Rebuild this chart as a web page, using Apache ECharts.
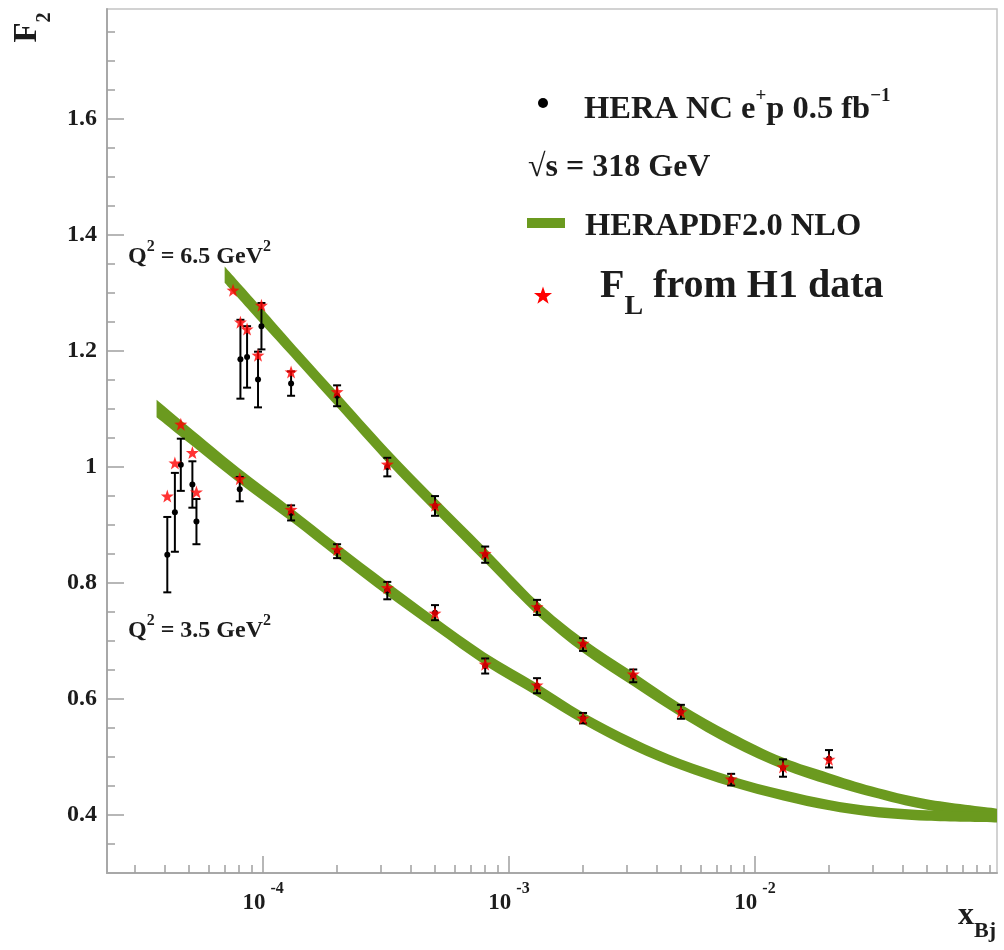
<!DOCTYPE html>
<html><head><meta charset="utf-8">
<script src="https://cdn.jsdelivr.net/npm/echarts@6/dist/echarts.min.js"></script>
<style>html,body{margin:0;padding:0;background:#fff}#c{width:1004px;height:950px}</style>
</head><body><div id="c"></div>
<script>
// ---- axis ranges / ticks ----
const X_MIN = 2.32e-5, X_MAX = 0.0964;
const Y_MIN = 0.3, Y_MAX = 1.79;
const xMajorTicks = [1e-4, 1e-3, 1e-2];
const xMinorTicks = [3e-5, 4e-5, 5e-5, 6e-5, 7e-5, 8e-5, 9e-5,
  2e-4, 3e-4, 4e-4, 5e-4, 6e-4, 7e-4, 8e-4, 9e-4,
  2e-3, 3e-3, 4e-3, 5e-3, 6e-3, 7e-3, 8e-3, 9e-3,
  2e-2, 3e-2, 4e-2, 5e-2, 6e-2, 7e-2, 8e-2, 9e-2];
const yMajorTicks = [0.4, 0.6, 0.8, 1, 1.2, 1.4, 1.6];
const yMinorTicks = [0.35, 0.45, 0.5, 0.55, 0.65, 0.7, 0.75, 0.85, 0.9, 0.95, 1.05, 1.1, 1.15,
  1.25, 1.3, 1.35, 1.45, 1.5, 1.55, 1.65, 1.7, 1.75];

// ---- HERA NC e+p F2 data, Q2 = 6.5 GeV2 ----
const xQ65   = [8.09e-5, 8.61e-5, 9.54e-5, 9.85e-5, 1.30e-4, 2.0e-4, 3.2e-4, 5.0e-4, 8.0e-4, 1.3e-3, 2.0e-3, 3.2e-3, 5.0e-3, 1.3e-2, 2.0e-2];
const f2Q65  = [1.186, 1.190, 1.151, 1.243, 1.144, 1.123, 1.000, 0.933, 0.849, 0.758, 0.694, 0.640, 0.578, 0.481, 0.497];
const errQ65 = [0.068, 0.053, 0.048, 0.040, 0.021, 0.018, 0.016, 0.017, 0.014, 0.013, 0.011, 0.011, 0.012, 0.015, 0.015];
// ---- HERA NC e+p F2 data, Q2 = 3.5 GeV2 ----
const xQ35   = [4.08e-5, 4.38e-5, 4.63e-5, 5.16e-5, 5.36e-5, 8.04e-5, 1.30e-4, 2.0e-4, 3.2e-4, 5.0e-4, 8.0e-4, 1.3e-3, 2.0e-3, 8.0e-3];
const f2Q35  = [0.849, 0.922, 1.004, 0.970, 0.906, 0.962, 0.921, 0.855, 0.787, 0.749, 0.657, 0.623, 0.567, 0.461];
const errQ35 = [0.065, 0.068, 0.045, 0.040, 0.039, 0.021, 0.013, 0.012, 0.015, 0.013, 0.013, 0.013, 0.009, 0.010];

// ---- F2 using FL from H1 data (red stars) ----
const flX65 = [7.55e-5, 8.09e-5, 8.61e-5, 9.54e-5, 9.85e-5, 1.30e-4, 2.0e-4, 3.2e-4, 5.0e-4, 8.0e-4, 1.3e-3, 2.0e-3, 3.2e-3, 5.0e-3, 1.3e-2, 2.0e-2];
const flF65 = [1.305, 1.250, 1.238, 1.193, 1.279, 1.164, 1.130, 1.005, 0.934, 0.851, 0.759, 0.696, 0.643, 0.578, 0.483, 0.496];
const flX35 = [4.08e-5, 4.38e-5, 4.63e-5, 5.16e-5, 5.36e-5, 8.04e-5, 1.30e-4, 2.0e-4, 3.2e-4, 5.0e-4, 8.0e-4, 1.3e-3, 2.0e-3, 8.0e-3];
const flF35 = [0.950, 1.007, 1.074, 1.025, 0.957, 0.980, 0.927, 0.858, 0.792, 0.748, 0.660, 0.624, 0.567, 0.462];

// ---- HERAPDF2.0 NLO bands: centre and half-width ----
const bandX65 = [6.98e-5, 1e-4, 1.3e-4, 2e-4, 3.2e-4, 5e-4, 8e-4, 1.3e-3, 2e-3, 3.2e-3, 5e-3, 8e-3, 1.3e-2, 2e-2, 3e-2, 5e-2, 9.64e-2];
const bandC65 = [1.332, 1.258, 1.204, 1.116, 1.020, 0.935, 0.848, 0.757, 0.692, 0.634, 0.580, 0.531, 0.489, 0.462, 0.440, 0.418, 0.402];
const bandH65 = [0.014, 0.014, 0.013, 0.013, 0.013, 0.013, 0.013, 0.012, 0.012, 0.012, 0.011, 0.011, 0.010, 0.010, 0.009, 0.009, 0.009];
const bandX35 = [3.69e-5, 5e-5, 8e-5, 1.3e-4, 2e-4, 3.2e-4, 5e-4, 8e-4, 1.3e-3, 2e-3, 3.2e-3, 5e-3, 8e-3, 1.3e-2, 2e-2, 3e-2, 5e-2, 9.64e-2];
const bandC35 = [1.101, 1.055, 0.985, 0.918, 0.856, 0.790, 0.730, 0.669, 0.616, 0.567, 0.522, 0.487, 0.458, 0.434, 0.417, 0.406, 0.399, 0.396];
const bandH35 = [0.015, 0.014, 0.013, 0.012, 0.012, 0.012, 0.011, 0.011, 0.011, 0.010, 0.010, 0.009, 0.009, 0.009, 0.009, 0.009, 0.009, 0.009];

const SERIF = "'Liberation Serif','Times New Roman',serif";
const GREEN = '#6b9a1f';
const TXT = '#1c1c1c';
const STAR = 'M0,-10 L2.35,-3.24 L9.51,-3.09 L3.8,1.24 L5.88,8.09 L0,4 L-5.88,8.09 L-3.8,1.24 L-9.51,-3.09 L-2.35,-3.24 Z';
// legend star icon outline (unit star, scaled when drawn)
const STAR_PTS = [[0,-10],[2.35,-3.24],[9.51,-3.09],[3.8,1.24],[5.88,8.09],[0,4],[-5.88,8.09],[-3.8,1.24],[-9.51,-3.09],[-2.35,-3.24]];

function f(size, extra) {
  return Object.assign({fontFamily: SERIF, fontWeight: 'bold', fontSize: size, color: TXT, fill: TXT}, extra || {});
}

// smooth pixel-space curve through projected points (Catmull-Rom -> cubic Bezier)
function curve(p) {
  let s = '';
  for (let i = 0; i < p.length - 1; i++) {
    const p0 = p[i - 1] || p[i], p1 = p[i], p2 = p[i + 1], p3 = p[i + 2] || p[i + 1];
    const k = 6;
    const c1 = [p1[0] + (p2[0] - p0[0]) / k, p1[1] + (p2[1] - p0[1]) / k];
    const c2 = [p2[0] - (p3[0] - p1[0]) / k, p2[1] - (p3[1] - p1[1]) / k];
    s += 'C' + c1[0] + ',' + c1[1] + ' ' + c2[0] + ',' + c2[1] + ' ' + p2[0] + ',' + p2[1] + ' ';
  }
  return s;
}

function bandSeries(xs, cs, hs, name) {
  return {
    type: 'custom', name: name, data: xs.map((x, i) => [x, cs[i] - hs[i], cs[i] + hs[i]]),
    encode: {x: 0, y: [1, 2]}, z: 1, silent: true, clip: true,
    renderItem(params, api) {
      if (params.dataIndex !== 0) return null;
      const up = [], lo = [];
      for (let i = 0; i < xs.length; i++) {
        up.push(api.coord([xs[i], cs[i] + hs[i]]));
        lo.push(api.coord([xs[i], cs[i] - hs[i]]));
      }
      const loR = lo.slice().reverse();
      const d = 'M' + up[0][0] + ',' + up[0][1] + ' ' + curve(up) +
                'L' + loR[0][0] + ',' + loR[0][1] + ' ' + curve(loR) + 'Z';
      return {type: 'path', shape: {pathData: d}, style: {fill: GREEN}};
    }
  };
}

const errData = xQ65.map((x, i) => [x, f2Q65[i], errQ65[i]])
  .concat(xQ35.map((x, i) => [x, f2Q35[i], errQ35[i]]));
const starData = flX65.map((x, i) => [x, flF65[i]])
  .concat(flX35.map((x, i) => [x, flF35[i]]));

const chart = echarts.init(document.getElementById('c'), null, {renderer: 'canvas'});
chart.setOption({
  animation: false,
  backgroundColor: '#fff',
  grid: {left: 107, right: 7, top: 9, bottom: 77, show: true, borderColor: '#c4c4c4', borderWidth: 1.5},
  xAxis: [
    {type: 'log', logBase: 10, min: X_MIN, max: X_MAX,
     axisLine: {onZero: false, lineStyle: {color: '#a8a8a8', width: 2}},
     axisTick: {inside: true, length: 17, customValues: xMajorTicks, lineStyle: {color: '#a0a0a0', width: 1.5}},
     axisLabel: {customValues: xMajorTicks, margin: 8,
       formatter: v => '{b|10}{s|' + Math.round(Math.log10(v)) + '}',
       rich: {b: f(23, {lineHeight: 44, verticalAlign: 'middle'}),
              s: f(16, {lineHeight: 16, verticalAlign: 'top', padding: [0, 0, 0, 5]})}},
     splitLine: {show: false}},
    {type: 'log', logBase: 10, min: X_MIN, max: X_MAX, position: 'bottom',
     axisLine: {show: false},
     axisTick: {inside: true, length: 8, customValues: xMinorTicks, lineStyle: {color: '#a0a0a0', width: 1.5}},
     axisLabel: {show: false}, splitLine: {show: false}}
  ],
  yAxis: [
    {type: 'value', min: Y_MIN, max: Y_MAX,
     axisLine: {show: true, onZero: false, lineStyle: {color: '#a8a8a8', width: 2}},
     axisTick: {show: true, inside: true, length: 17, customValues: yMajorTicks, lineStyle: {color: '#a0a0a0', width: 1.5}},
     axisLabel: {customValues: yMajorTicks, margin: 10, formatter: v => String(v), ...f(24)},
     splitLine: {show: false}},
    {type: 'value', min: Y_MIN, max: Y_MAX, position: 'left',
     axisLine: {show: false},
     axisTick: {show: true, inside: true, length: 8, customValues: yMinorTicks, lineStyle: {color: '#a0a0a0', width: 1.5}},
     axisLabel: {show: false}, splitLine: {show: false}}
  ],
  series: [
    bandSeries(bandX65, bandC65, bandH65, 'HERAPDF2.0 NLO'),
    bandSeries(bandX35, bandC35, bandH35, 'HERAPDF2.0 NLO'),
    {type: 'custom', name: 'HERA NC e+p 0.5 fb-1', data: errData, encode: {x: 0, y: 1}, z: 3, clip: true,
     renderItem(params, api) {
       const x = api.value(0), y = api.value(1), e = api.value(2);
       const t = api.coord([x, y + e]), b = api.coord([x, y - e]), c = api.coord([x, y]);
       const s = {stroke: '#000', lineWidth: 2};
       return {type: 'group', children: [
         {type: 'line', shape: {x1: t[0], y1: t[1], x2: b[0], y2: b[1]}, style: s},
         {type: 'line', shape: {x1: t[0] - 4, y1: t[1], x2: t[0] + 4, y2: t[1]}, style: s},
         {type: 'line', shape: {x1: b[0] - 4, y1: b[1], x2: b[0] + 4, y2: b[1]}, style: s},
         {type: 'circle', shape: {cx: c[0], cy: c[1], r: 3}, style: {fill: '#000'}}
       ]};
     }},
    {type: 'scatter', name: 'F_L from H1 data', data: starData, symbol: 'path://' + STAR, symbolSize: 13,
     itemStyle: {color: '#ff0000'}, z: 4}
  ],
  graphic: [
    // y-axis title F_2 (rotated)
    {type: 'text', x: 27.5, y: 27.5, rotation: Math.PI / 2,
     style: {text: '{m|F}{s|2}', align: 'center', verticalAlign: 'middle', textAlign: 'center', textVerticalAlign: 'middle',
       rich: {m: f(33, {lineHeight: 55, verticalAlign: 'middle'}), s: f(20, {lineHeight: 20, verticalAlign: 'bottom'})}}},
    // x-axis title x_Bj
    {type: 'text', x: 996, y: 916,
     style: {text: '{m|x}{s|Bj}', align: 'right', verticalAlign: 'middle', textAlign: 'right', textVerticalAlign: 'middle',
       rich: {m: f(32, {lineHeight: 53, verticalAlign: 'middle'}), s: f(22, {lineHeight: 22, verticalAlign: 'bottom'})}}},
    // Q2 labels
    {type: 'text', x: 128, y: 256.5,
     style: {text: '{m|Q}{s|2}{m| = 6.5 GeV}{s|2}', align: 'left', verticalAlign: 'middle', textAlign: 'left', textVerticalAlign: 'middle',
       rich: {m: f(24, {lineHeight: 36, verticalAlign: 'middle'}), s: f(16, {lineHeight: 16, verticalAlign: 'top'})}}},
    {type: 'text', x: 128, y: 631,
     style: {text: '{m|Q}{s|2}{m| = 3.5 GeV}{s|2}', align: 'left', verticalAlign: 'middle', textAlign: 'left', textVerticalAlign: 'middle',
       rich: {m: f(24, {lineHeight: 36, verticalAlign: 'middle'}), s: f(16, {lineHeight: 16, verticalAlign: 'top'})}}},
    // legend
    {type: 'circle', shape: {cx: 543, cy: 103, r: 5}, style: {fill: '#000'}},
    {type: 'text', x: 584, y: 110,
     style: {text: '{m|HERA NC e}{s|+}{m|p 0.5 fb}{s|\u22121}', align: 'left', verticalAlign: 'middle', textAlign: 'left', textVerticalAlign: 'middle',
       rich: {m: f(32.5, {lineHeight: 46, verticalAlign: 'middle'}), s: f(19, {lineHeight: 19, verticalAlign: 'top'})}}},
    {type: 'text', x: 528, y: 168,
     style: {text: '\u221As = 318 GeV', align: 'left', verticalAlign: 'middle', textAlign: 'left', textVerticalAlign: 'middle',
       font: 'bold 32px ' + SERIF, fill: TXT}},
    {type: 'rect', shape: {x: 527, y: 218, width: 38, height: 10}, style: {fill: GREEN}},
    {type: 'text', x: 585, y: 227,
     style: {text: 'HERAPDF2.0 NLO', align: 'left', verticalAlign: 'middle', textAlign: 'left', textVerticalAlign: 'middle',
       font: 'bold 32.5px ' + SERIF, fill: TXT}},
    {type: 'polygon', x: 543, y: 296, scaleX: 0.95, scaleY: 0.95, shape: {points: STAR_PTS}, style: {fill: '#ff0000'}},
    {type: 'text', x: 600, y: 287,
     style: {text: '{m|F}{s|L}{m| from H1 data}', align: 'left', verticalAlign: 'middle', textAlign: 'left', textVerticalAlign: 'middle',
       rich: {m: f(40, {lineHeight: 67, verticalAlign: 'middle'}), s: f(28, {lineHeight: 28, verticalAlign: 'bottom'})}}}
  ]
});
</script></body></html>
